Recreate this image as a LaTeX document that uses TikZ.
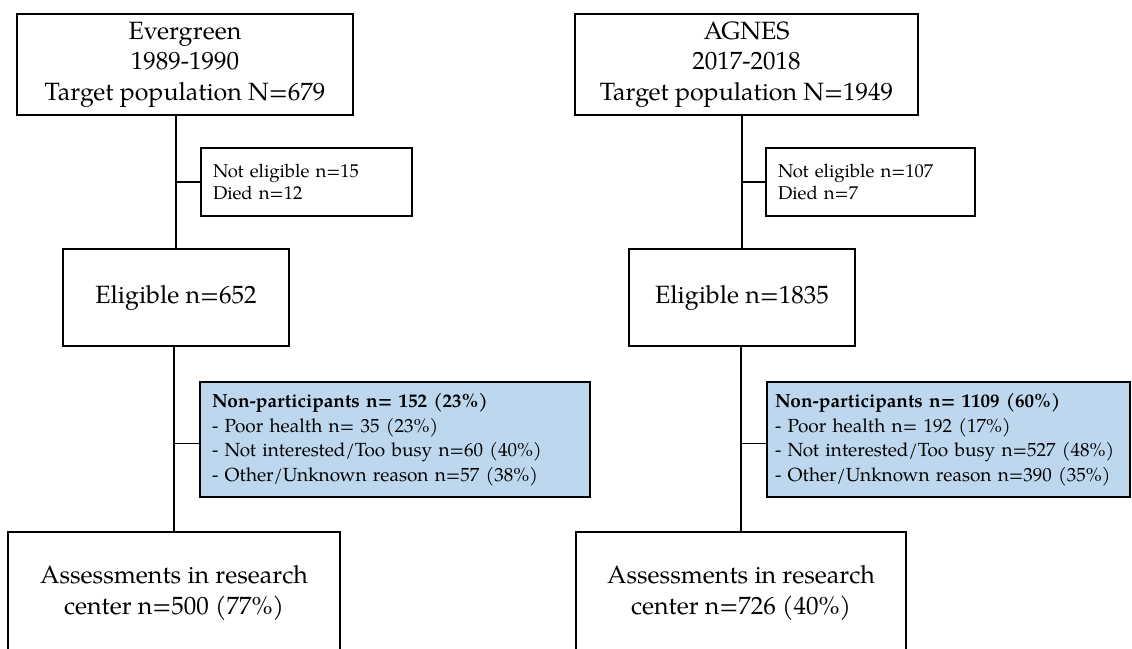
\documentclass[tikz,border=0pt]{standalone}
\usepackage{fontspec}
\setmainfont{TeX Gyre Pagella}
\definecolor{bluefill}{RGB}{189,215,238}
\begin{document}
\begin{tikzpicture}[x=1pt,y=-1pt,
  box/.style={draw=black, line width=1.8pt, fill=white, inner sep=0pt, align=center},
  big/.style={font=\fontsize{25}{30.5}\selectfont},
  small/.style={font=\fontsize{18.5}{21.5}\selectfont, align=left, inner xsep=12pt, inner ysep=0pt},
  mid/.style={font=\fontsize{19}{24.5}\selectfont, align=left, inner xsep=12pt, inner ysep=0pt, fill=bluefill},
  conn/.style={draw=black, line width=1.8pt}]
\useasboundingbox (0,0) rectangle (1132,648);
\clip (0,0) rectangle (1132,648);
% left column
\node[box,big,minimum width=336pt,minimum height=101pt] (t1) at (185,64.5) {Evergreen\\1989-1990\\Target population N=679};
\node[box,small,text width=187pt,minimum height=68pt] (n1) at (306.5,182) {Not eligible n=15\\Died n=12};
\node[box,big,minimum width=226pt,minimum height=97pt] (e1) at (176,297.5) {Eligible n=652};
\node[box,mid,text width=366pt,minimum height=115pt] (b1) at (395,439.5) {\textbf{Non-participants n= 152 (23\%)}\\- Poor health n= 35 (23\%)\\- Not interested/Too busy n=60 (40\%)\\- Other/Unknown reason n=57 (38\%)};
\node[box,big,minimum width=332pt,minimum height=122pt] (a1) at (174,593) {Assessments in research\\center n=500 (77\%)};
% right column
\node[box,big,minimum width=343pt,minimum height=101pt] (t2) at (746.5,64.5) {AGNES\\2017-2018\\Target population N=1949};
\node[box,small,text width=185pt,minimum height=68pt] (n2) at (870.5,182) {Not eligible n=107\\Died n=7};
\node[box,big,minimum width=226pt,minimum height=97pt] (e2) at (742,297.5) {Eligible n=1835};
\node[box,mid,text width=347pt,inner xsep=8pt,minimum height=115pt] (b2) at (948.5,439.5) {\textbf{Non-participants n= 1109 (60\%)}\\- Poor health n= 192 (17\%)\\- Not interested/Too busy n=527 (48\%)\\- Other/Unknown reason n=390 (35\%)};
\node[box,big,minimum width=330pt,minimum height=122pt] (a2) at (741,593) {Assessments in research\\center n=726 (40\%)};
% connectors
\draw[conn] (t1.south -| e1.north) -- (e1.north);
\draw[conn] (n1.west) -- (n1.west -| e1.north);
\draw[conn] (a1.north |- e1.south) -- (a1.north);
\draw[conn] ([yshift=-4pt]b1.west) -- ([yshift=-4pt]b1.west -| a1.north);
\draw[conn] (t2.south -| e2.north) -- (e2.north);
\draw[conn] (n2.west) -- (n2.west -| e2.north);
\draw[conn] (a2.north |- e2.south) -- (a2.north);
\draw[conn] ([yshift=-4pt]b2.west) -- ([yshift=-4pt]b2.west -| a2.north);
\end{tikzpicture}
\end{document}
